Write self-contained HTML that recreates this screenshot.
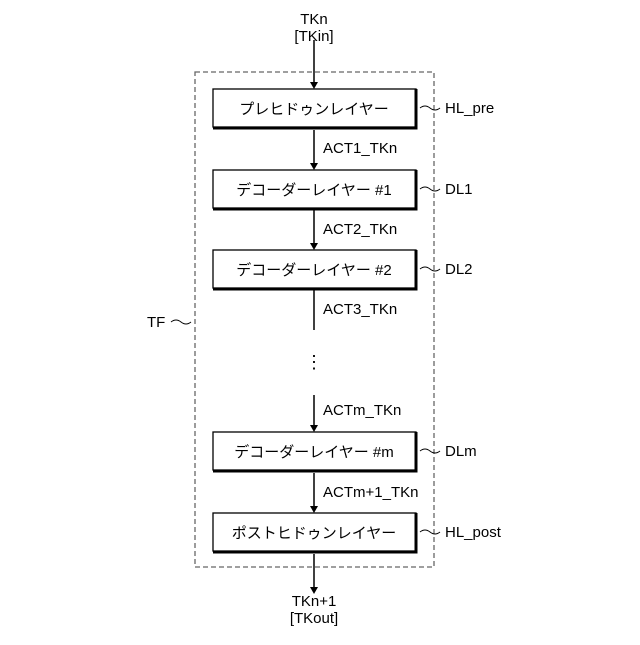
<!DOCTYPE html>
<html><head><meta charset="utf-8"><style>body{margin:0;background:#fff}</style></head><body>
<svg width="640" height="640" viewBox="0 0 640 640" xmlns="http://www.w3.org/2000/svg" font-family="'Liberation Sans','Noto Sans CJK JP',sans-serif" font-size="15" fill="#000">
<defs><marker id="a" markerWidth="8" markerHeight="10" refX="4" refY="10" orient="auto" markerUnits="userSpaceOnUse"><path d="M0,0 L8,0 L4,10 z" transform="rotate(-90 4 5) translate(0,0)" fill="none"/></marker></defs>
<rect x="195" y="72" width="239" height="495" fill="none" stroke="#666" stroke-width="1.3" stroke-dasharray="5,3"/>
<g stroke="#000" stroke-width="1.5" fill="none">
<line x1="314" y1="40" x2="314" y2="84"/>
<line x1="314" y1="130" x2="314" y2="166"/>
<line x1="314" y1="210" x2="314" y2="246"/>
<line x1="314" y1="290" x2="314" y2="330"/>
<line x1="314" y1="395" x2="314" y2="428"/>
<line x1="314" y1="473" x2="314" y2="509"/>
<line x1="314" y1="554" x2="314" y2="590"/>
</g>
<g fill="#000">
<path d="M310,82 L318,82 L314,89 z"/>
<path d="M310,163 L318,163 L314,170 z"/>
<path d="M310,243 L318,243 L314,250 z"/>
<path d="M310,425 L318,425 L314,432 z"/>
<path d="M310,506 L318,506 L314,513 z"/>
<path d="M310,587 L318,587 L314,594 z"/>
</g>
<g stroke="#000" fill="#fff">
<rect x="213" y="89" width="203" height="38" stroke-width="1.3"/>
<rect x="213" y="170" width="203" height="38" stroke-width="1.3"/>
<rect x="213" y="250" width="203" height="38" stroke-width="1.3"/>
<rect x="213" y="432" width="203" height="38" stroke-width="1.3"/>
<rect x="213" y="513" width="203" height="38" stroke-width="1.3"/>
</g>
<g stroke="#000" stroke-width="3" fill="none">
<path d="M416,89 V128 H213"/><path d="M416,170 V209 H213"/><path d="M416,250 V289 H213"/><path d="M416,432 V471 H213"/><path d="M416,513 V552 H213"/>
</g>
<g text-anchor="middle">
<text x="314" y="114">プレヒドゥンレイヤー</text>
<text x="314" y="195">デコーダーレイヤー #1</text>
<text x="314" y="275">デコーダーレイヤー #2</text>
<text x="314" y="457">デコーダーレイヤー #m</text>
<text x="314" y="538">ポストヒドゥンレイヤー</text>
<text x="314" y="24">TKn</text>
<text x="314" y="41">[TKin]</text>
<text x="314" y="606">TKn+1</text>
<text x="314" y="623">[TKout]</text>
<text x="314" y="368" font-size="18">⋮</text>
</g>
<g>
<text x="323" y="153">ACT1_TKn</text>
<text x="323" y="234">ACT2_TKn</text>
<text x="323" y="314">ACT3_TKn</text>
<text x="323" y="415">ACTm_TKn</text>
<text x="323" y="497">ACTm+1_TKn</text>
<text x="445" y="113">HL_pre</text>
<text x="445" y="194">DL1</text>
<text x="445" y="274">DL2</text>
<text x="445" y="456">DLm</text>
<text x="445" y="537">HL_post</text>
<text x="147" y="327">TF</text>
</g>
<g stroke="#000" stroke-width="1" fill="none">
<path d="M420,108 q5,-4 10,0 t10,0"/>
<path d="M420,189 q5,-4 10,0 t10,0"/>
<path d="M420,269 q5,-4 10,0 t10,0"/>
<path d="M420,451 q5,-4 10,0 t10,0"/>
<path d="M420,532 q5,-4 10,0 t10,0"/>
<path d="M171,322 q5,-4 10,0 t10,0"/>
</g>
</svg>
</body></html>
